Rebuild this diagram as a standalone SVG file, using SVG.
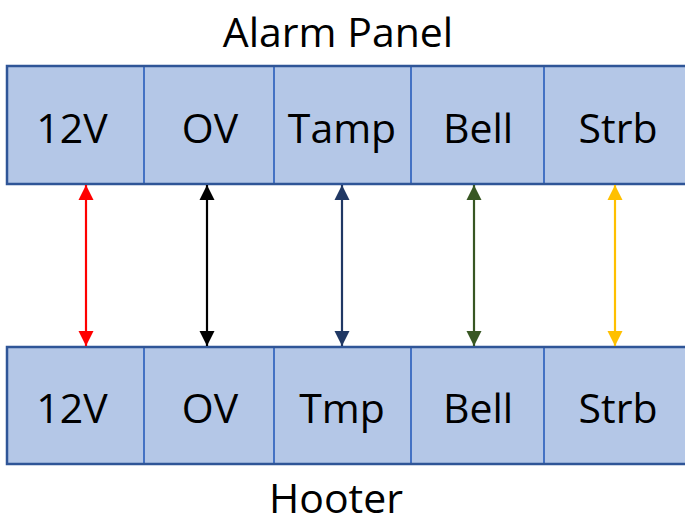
<svg xmlns="http://www.w3.org/2000/svg" width="685" height="523" viewBox="0 0 685 523">
<style>
.cell{fill:#B4C7E7;stroke:#4472C4;stroke-width:2}
.outer{fill:none;stroke:#2F5597;stroke-width:2.5}
text{font-family:"Open Sans","Liberation Sans",sans-serif;font-size:41px;fill:#000;text-anchor:middle}
.w{stroke-width:2.2;fill:none}
</style>
<defs>
<marker id="hr" viewBox="0 0 10 10" refX="10" refY="5" markerWidth="7" markerHeight="7" markerUnits="strokeWidth" orient="auto-start-reverse"><path d="M0,0L10,5L0,10z" fill="#FF0000"/></marker>
<marker id="hk" viewBox="0 0 10 10" refX="10" refY="5" markerWidth="7" markerHeight="7" markerUnits="strokeWidth" orient="auto-start-reverse"><path d="M0,0L10,5L0,10z" fill="#000000"/></marker>
<marker id="hn" viewBox="0 0 10 10" refX="10" refY="5" markerWidth="7" markerHeight="7" markerUnits="strokeWidth" orient="auto-start-reverse"><path d="M0,0L10,5L0,10z" fill="#203864"/></marker>
<marker id="hg" viewBox="0 0 10 10" refX="10" refY="5" markerWidth="7" markerHeight="7" markerUnits="strokeWidth" orient="auto-start-reverse"><path d="M0,0L10,5L0,10z" fill="#385723"/></marker>
<marker id="hy" viewBox="0 0 10 10" refX="10" refY="5" markerWidth="7" markerHeight="7" markerUnits="strokeWidth" orient="auto-start-reverse"><path d="M0,0L10,5L0,10z" fill="#FFC000"/></marker>
</defs>
<text x="338" y="47">Alarm Panel</text>
<g id="panel">
<g id="p-12v"><rect class="cell" x="7" y="66" width="137" height="118"/><text x="72" y="143">12V</text></g>
<g id="p-ov"><rect class="cell" x="144" y="66" width="130" height="118"/><text x="210" y="143">OV</text></g>
<g id="p-tamp"><rect class="cell" x="274" y="66" width="137" height="118"/><text x="342" y="143">Tamp</text></g>
<g id="p-bell"><rect class="cell" x="411" y="66" width="133" height="118"/><text x="478" y="143">Bell</text></g>
<g id="p-strb"><rect class="cell" x="544" y="66" width="150" height="118"/><text x="618" y="143">Strb</text></g>
<rect class="outer" x="7" y="66" width="690" height="118"/>
</g>
<g id="hooter">
<g id="h-12v"><rect class="cell" x="7" y="347" width="137" height="117"/><text x="72" y="423">12V</text></g>
<g id="h-ov"><rect class="cell" x="144" y="347" width="130" height="117"/><text x="210" y="423">OV</text></g>
<g id="h-tmp"><rect class="cell" x="274" y="347" width="137" height="117"/><text x="342" y="423">Tmp</text></g>
<g id="h-bell"><rect class="cell" x="411" y="347" width="133" height="117"/><text x="478" y="423">Bell</text></g>
<g id="h-strb"><rect class="cell" x="544" y="347" width="150" height="117"/><text x="618" y="423">Strb</text></g>
<rect class="outer" x="7" y="347" width="690" height="117"/>
</g>
<text x="336" y="513">Hooter</text>
<g id="connectors">
<line class="w" x1="86" y1="185" x2="86" y2="346" stroke="#FF0000" marker-start="url(#hr)" marker-end="url(#hr)"/>
<line class="w" x1="207" y1="185" x2="207" y2="346" stroke="#000000" marker-start="url(#hk)" marker-end="url(#hk)"/>
<line class="w" x1="342" y1="185" x2="342" y2="346" stroke="#203864" marker-start="url(#hn)" marker-end="url(#hn)"/>
<line class="w" x1="474" y1="185" x2="474" y2="346" stroke="#385723" marker-start="url(#hg)" marker-end="url(#hg)"/>
<line class="w" x1="615" y1="185" x2="615" y2="346" stroke="#FFC000" marker-start="url(#hy)" marker-end="url(#hy)"/>
</g>
</svg>
